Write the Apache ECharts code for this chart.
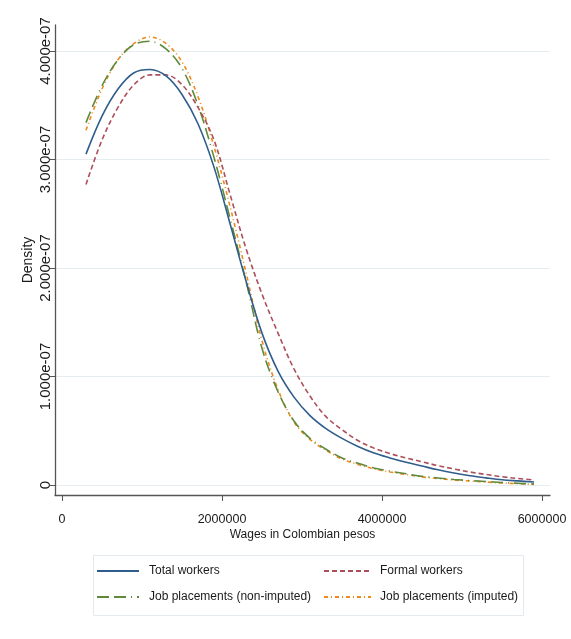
<!DOCTYPE html>
<html>
<head>
<meta charset="utf-8">
<script src="https://cdn.jsdelivr.net/npm/echarts@6/dist/echarts.min.js"></script>
<style>
html,body{margin:0;padding:0;background:#fff;}
#c{width:571px;height:639px;}
</style>
</head>
<body>
<div id="c"></div>
<script>
// Wages (Colombian pesos) at which the densities are evaluated
const wages = [300000,500000,700000,900000,1100000,1300000,1500000,1700000,1900000,2100000,
  2300000,2500000,2700000,2900000,3100000,3300000,3500000,3700000,3900000,4100000,
  4300000,4500000,4700000,4900000,5100000,5300000,5500000,5700000,5900000];
// Densities, in units of 1e-7
const DENS_UNIT = 1e-7;
const totalWorkers = [3.05,3.40,3.65,3.80,3.83,3.77,3.60,3.33,2.93,2.41,
  1.88,1.40,1.05,0.81,0.64,0.52,0.43,0.355,0.295,0.25,
  0.21,0.175,0.14,0.11,0.085,0.066,0.049,0.038,0.028];
const formalWorkers = [2.77,3.18,3.48,3.69,3.78,3.78,3.69,3.48,3.18,2.68,
  2.18,1.76,1.40,1.07,0.82,0.63,0.51,0.41,0.34,0.29,
  0.25,0.215,0.178,0.148,0.12,0.097,0.076,0.06,0.046];
const jobNonImputed = [3.34,3.68,3.92,4.06,4.09,4.02,3.84,3.50,3.02,2.46,
  1.88,1.26,0.86,0.59,0.43,0.33,0.25,0.20,0.157,0.128,
  0.104,0.08,0.065,0.051,0.041,0.032,0.023,0.016,0.009];
const jobImputed = [3.27,3.65,3.92,4.07,4.13,4.07,3.90,3.58,3.12,2.57,
  1.96,1.33,0.88,0.58,0.42,0.32,0.24,0.19,0.148,0.12,
  0.097,0.075,0.06,0.046,0.037,0.028,0.018,0.012,0.006];
const xTicks = [0,2000000,4000000,6000000];
const yTicks = [0,1e-7,2e-7,3e-7,4e-7];
const seriesNames = ['Total workers','Formal workers','Job placements (non-imputed)','Job placements (imputed)'];

const FONT = "'Liberation Sans', Arial, sans-serif";

function pairs(vals){ return wages.map((w,i)=>[w, vals[i]*DENS_UNIT]); }
function fmtY(v){
  if (v === 0) return '0';
  return v.toExponential(3).replace(/e([+-])(\d)$/, 'e$10$2');
}

const chart = echarts.init(document.getElementById('c'), null, {renderer:'canvas'});
const styles = [
  {color:'#2f5d8c', type:'solid'},
  {color:'#ad4f5b', type:[5,3]},
  {color:'#5f8a3c', type:[12,5,12,5,1,5]},
  {color:'#ee8a1c', type:[4,3,1,3]}
];
const dataSets = [totalWorkers, formalWorkers, jobNonImputed, jobImputed];

chart.setOption({
  backgroundColor:'#ffffff',
  animation:false,
  grid:{left:55, right:21, top:25, bottom:144, containLabel:false},
  xAxis:{
    type:'value', min:-87500, max:6100000,
    name:'Wages in Colombian pesos', nameLocation:'middle', nameGap:34, nameMoveOverlap:false,
    nameTextStyle:{fontFamily:FONT, fontSize:12, color:'#1a1a1a'},
    axisLine:{show:true, onZero:false, lineStyle:{color:'#555', width:1.3}},
    axisTick:{show:true, length:6, customValues:xTicks, lineStyle:{color:'#555'}},
    axisLabel:{customValues:xTicks, fontFamily:FONT, fontSize:12.5, color:'#1a1a1a', margin:18,
      formatter:v=>String(Math.round(v))},
    splitLine:{show:false}
  },
  yAxis:{
    type:'value', min:-0.092e-7, max:4.24e-7,
    name:'Density', nameLocation:'middle', nameGap:20, nameRotate:90, nameMoveOverlap:false,
    nameTextStyle:{fontFamily:FONT, fontSize:14, color:'#1a1a1a'},
    axisLine:{show:true, onZero:false, lineStyle:{color:'#555', width:1.3}},
    axisTick:{show:true, length:5, customValues:yTicks, lineStyle:{color:'#555'}},
    axisLabel:{customValues:yTicks, rotate:90, fontFamily:FONT, fontSize:15, color:'#1a1a1a', margin:2,
      formatter:fmtY},
    splitLine:{show:true, lineStyle:{color:'#e6edf1', width:1}}
  },
  legend:[
    {data:[seriesNames[0], seriesNames[2]], orient:'vertical', left:96, top:565, padding:0,
     itemWidth:42, itemHeight:14, itemGap:14, itemStyle:{opacity:0},
     textStyle:{fontFamily:FONT, fontSize:12, color:'#1a1a1a', padding:[0,0,0,5]}},
    {data:[seriesNames[1], seriesNames[3]], orient:'vertical', left:323, top:565, padding:0,
     itemWidth:47, itemHeight:14, itemGap:14, itemStyle:{opacity:0},
     textStyle:{fontFamily:FONT, fontSize:12, color:'#1a1a1a', padding:[0,0,0,4]}}
  ],
  graphic:[
    {type:'rect', left:91, top:553, shape:{width:430, height:60},
     style:{fill:'none', stroke:'#e3e9ed', lineWidth:1}, silent:true}
  ],
  series: dataSets.map((d,i)=>({
    name: seriesNames[i], type:'line', data: pairs(d),
    showSymbol:false, symbol:'none', smooth:0.35,
    lineStyle:{color:styles[i].color, width:1.6, type:styles[i].type},
    itemStyle:{color:styles[i].color},
    z: 4-i
  }))
});
</script>
</body>
</html>
